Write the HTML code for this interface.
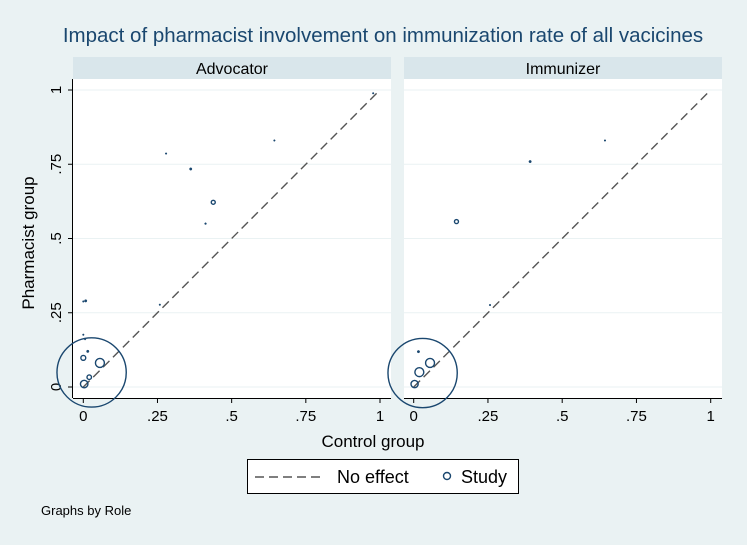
<!DOCTYPE html>
<html><head><meta charset="utf-8"><style>
body{margin:0;background:#eaf2f3;}
svg{display:block;font-family:"Liberation Sans",sans-serif;}
</style></head><body>
<svg id="chart" width="747" height="545" xmlns="http://www.w3.org/2000/svg">
<rect width="747" height="545" fill="#eaf2f3"/>
<text x="383" y="42" text-anchor="middle" font-size="20.5" fill="#1a476f">Impact of pharmacist involvement on immunization rate of all vacicines</text>
<g id="panels"></g>
<text x="373" y="447" text-anchor="middle" font-size="17" fill="#000">Control group</text>
<text transform="translate(34,243) rotate(-90)" text-anchor="middle" font-size="17" fill="#000">Pharmacist group</text>
<g>
<rect x="247.5" y="459.5" width="271" height="34" fill="#fff" stroke="#000" stroke-width="1"/>
<line x1="255" y1="477" x2="325" y2="477" stroke="#555" stroke-width="1.5" stroke-dasharray="9,5"/>
<text x="337" y="483" font-size="18">No effect</text>
<circle cx="447" cy="476" r="3.5" fill="none" stroke="#1a476f" stroke-width="1.4"/>
<text x="461" y="483" font-size="18">Study</text>
</g>
<text x="41" y="515" font-size="13">Graphs by Role</text>
</svg>
<script>
const panelNames = ["Advocator", "Immunizer"];
const ticks = [0, 0.25, 0.5, 0.75, 1];
const tickLabels = ["0", ".25", ".5", ".75", "1"];
const advX = [0.977,0.644,0.279,0.362,0.438,0.412,0.258,0.008,0.0,0.0,0.006,0.015,0.0,0.056,0.02,0.003,0.028];
const advY = [0.989,0.830,0.786,0.734,0.622,0.550,0.277,0.290,0.288,0.176,0.161,0.120,0.098,0.081,0.033,0.010,0.049];
const advW = [0.5,0.5,0.5,1.5,4,0.8,0.5,1.5,0.5,0.5,0.5,1.5,6,20,5,14,1200];
const immX = [0.644,0.392,0.144,0.257,0.016,0.055,0.019,0.003,0.030];
const immY = [0.830,0.759,0.557,0.276,0.119,0.081,0.050,0.010,0.047];
const immW = [0.5,1.5,4,0.5,1.5,20,20,13,1200];
const panelData = [[advX,advY,advW],[immX,immY,immW]];
const NS="http://www.w3.org/2000/svg";
const g=document.getElementById("panels");
function mk(tag,attrs,parent){const e=document.createElementNS(NS,tag);for(const k in attrs)e.setAttribute(k,attrs[k]);(parent||g).appendChild(e);return e;}
const layouts=[{left:73,right:391,x0:83.3,x1:380},{left:404,right:722,x0:413.7,x1:710.7}];
const yTop=79,yBot=398,y0=387,y1=90;
const sy=v=>y0+(y1-y0)*v;
layouts.forEach((L,i)=>{
  const sx=v=>L.x0+(L.x1-L.x0)*v;
  const pg=mk("g",{});
  
  
  const strip=mk("rect",{x:L.left,y:57,width:L.right-L.left,height:22,fill:"#d9e6eb"},pg);
  
  
  const st=mk("text",{x:(L.left+L.right)/2,y:74,"text-anchor":"middle","font-size":16},pg);
  st.textContent=panelNames[i];
  
  
  const plot=mk("rect",{x:L.left,y:yTop,width:L.right-L.left,height:yBot-yTop,fill:"#fff"},pg);
  
  
  ticks.forEach((t,j)=>{
    const gl=mk("line",{x1:L.left,x2:L.right,y1:sy(t),y2:sy(t),stroke:"#eaf2f3","stroke-width":1},pg);
    
    
    const xt=mk("line",{x1:sx(t),x2:sx(t),y1:yBot,y2:yBot+5,stroke:"#000"},pg);
    
    
    const xl=mk("text",{x:sx(t),y:421,"text-anchor":"middle","font-size":15},pg);
    xl.textContent=tickLabels[j];
    
    
    if(i===0){
      const yt=mk("line",{x1:L.left-5,x2:L.left,y1:sy(t),y2:sy(t),stroke:"#000"},pg);
      
      
      const yl=mk("text",{transform:`translate(${L.left-12},${sy(t)}) rotate(-90)`,"text-anchor":"middle","font-size":15},pg);
      yl.textContent=tickLabels[j];
      
      
    }
  });
  const xa=mk("line",{x1:L.left,x2:L.right,y1:yBot+0.5,y2:yBot+0.5,stroke:"#000"},pg);
  
  
  if(i===0){const ya=mk("line",{x1:L.left-0.5,x2:L.left-0.5,y1:yTop,y2:yBot,stroke:"#000"},pg);
  
  }
  const d=mk("line",{x1:sx(0),y1:sy(0),x2:sx(1),y2:sy(1),stroke:"#555","stroke-width":1.4,"stroke-dasharray":"9,5"},pg);
  
  
  const [X,Y,W]=panelData[i];
  X.forEach((xv,k)=>{
    const r=Math.max(0.8,Math.sqrt(W[k]));
    const c=mk("circle",{cx:sx(xv),cy:sy(Y[k]),r:r,fill:r<1.5?"#1a476f":"none",stroke:"#1a476f","stroke-width":r<1.5?0.5:1.4},pg);
    
    
  });
});
</script>
</body></html>
